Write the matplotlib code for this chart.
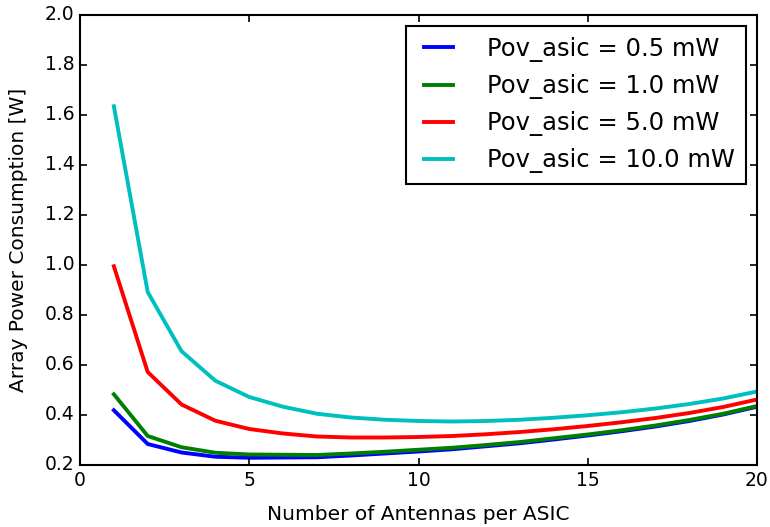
import matplotlib
matplotlib.use("Agg")
import matplotlib.pyplot as plt

plt.style.use("classic")

n_antennas = list(range(1, 21))
labels = ["Pov_asic = 0.5 mW", "Pov_asic = 1.0 mW", "Pov_asic = 5.0 mW", "Pov_asic = 10.0 mW"]
colors = ["b", "g", "r", "c"]

p_05 = [0.419, 0.284, 0.250, 0.233, 0.229, 0.230, 0.231, 0.238, 0.246, 0.254,
        0.263, 0.275, 0.287, 0.302, 0.318, 0.335, 0.354, 0.376, 0.402, 0.433]
p_10 = [0.483, 0.316, 0.271, 0.249, 0.242, 0.241, 0.240, 0.246, 0.253, 0.261,
        0.269, 0.280, 0.292, 0.307, 0.322, 0.339, 0.358, 0.380, 0.405, 0.436]
p_50 = [0.995, 0.572, 0.442, 0.377, 0.344, 0.326, 0.314, 0.310, 0.310, 0.312,
        0.316, 0.323, 0.332, 0.343, 0.356, 0.371, 0.388, 0.408, 0.432, 0.462]
p_100 = [1.635, 0.892, 0.655, 0.537, 0.472, 0.433, 0.405, 0.390, 0.381, 0.376,
         0.374, 0.376, 0.381, 0.389, 0.399, 0.411, 0.426, 0.444, 0.466, 0.494]

fig = plt.figure(figsize=(7.7, 5.27), dpi=100, facecolor="white")
ax = fig.add_axes([80 / 770, 1 - 465 / 527, 677 / 770, 450 / 527])

for series, col, lab in zip([p_05, p_10, p_50, p_100], colors, labels):
    ax.plot(n_antennas, series, color=col, lw=2.8, label=lab)

ax.set_xlim(0, 20)
ax.set_ylim(0.2, 2.0)
ax.set_xticks([0, 5, 10, 15, 20])
ax.set_yticks([0.2, 0.4, 0.6, 0.8, 1.0, 1.2, 1.4, 1.6, 1.8, 2.0])
ax.tick_params(labelsize=13.5, width=1.2, length=5)
for sp in ax.spines.values():
    sp.set_linewidth(1.5)
ax.set_xlabel("Number of Antennas per ASIC", fontsize=14.5, labelpad=11)
ax.set_ylabel("Array Power Consumption [W]", fontsize=14.5, labelpad=12)
leg = ax.legend(loc="upper right", fontsize=17.5, frameon=True,
                handlelength=1.8, handletextpad=1.1, labelspacing=0.5,
                borderpad=0.45, borderaxespad=0.45)
leg.get_frame().set_linewidth(1.5)

fig.savefig("out.png", dpi=100, facecolor="white")
